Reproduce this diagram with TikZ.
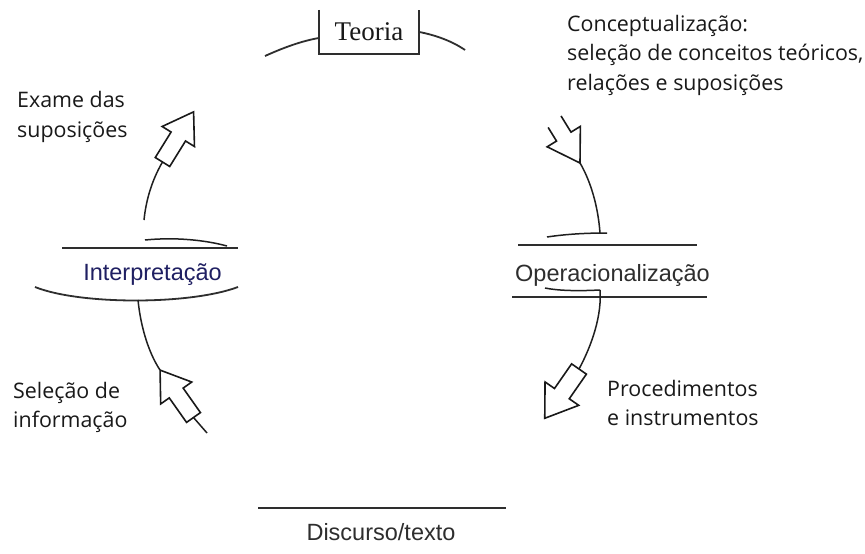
\documentclass[tikz,border=0pt]{standalone}
\usepackage{fontspec}
\setmainfont{Liberation Serif}
\newfontfamily\labsans{Open Sans}
\newfontfamily\arialf{Liberation Sans}
\begin{document}
\begin{tikzpicture}[x=1pt,y=-1pt,
  ln/.style={line width=1.8pt,draw=black!82},
  thin/.style={line width=1.5pt,draw=black!88},
  note/.style={font=\labsans\fontsize{21.4}{29.5}\selectfont,text=black!90,align=left,inner sep=0pt},
  stage/.style={font=\arialf\fontsize{23.5}{26}\selectfont,text=black!82,inner sep=0pt},
  blockarrow/.style={line width=1.6pt,draw=black!90,line join=miter}]
\useasboundingbox (0,0) rectangle (865,554);
\fill[white] (0,0) rectangle (865,554);

% Teoria box (open at top)
\node[font=\fontsize{27}{30}\selectfont,text=black!90,minimum width=100pt,minimum height=44pt,inner sep=0pt] (teoria) at (369,32) {Teoria};
\draw[ln] (teoria.north west) -- (teoria.south west) -- (teoria.south east) -- (teoria.north east);
\coordinate (tl) at (265,56);
\coordinate (tr) at (465,50);
\draw[ln] (tl) .. controls (285,47) and (302,41) .. (teoria.west |- 0,38);
\draw[ln] (teoria.east |- 0,32) .. controls (435,35) and (452,41) .. (tr);

% labels
\node[note,anchor=west] (exame) at (17,117) {Exame das\\suposições};
\node[note,anchor=west] (concept) at (567,55) {Conceptualização:\\seleção de conceitos teóricos,\\relações e suposições};
\node[note,anchor=west] (selecao) at (13,407.5) {Seleção de\\informação};
\node[note,anchor=west] (proced) at (607,403) {Procedimentos\\e instrumentos};

% stages
\node[stage,text=blue!30!black!88] (interp) at (152.5,275) {Interpretação};
\node[stage] (oper) at (612.5,275) {Operacionalização};
\node[stage] (disc) at (381,532) {Discurso/texto};

\draw[ln] (62,248) -- (238,248);
\draw[ln] (518,245) -- (697,245);
\draw[ln] (512,297) -- (707,297);
\draw[ln] (258,508) -- (506,508);
% arc under Interpretacao
\coordinate (ia) at (35,287);
\coordinate (ib) at (238,287);
\draw[ln] (ia) .. controls (80,305) and (190,305) .. (ib);

% ---- Exame arrow (up-right)
\coordinate (eA) at (144,220);
\coordinate (eB) at (162.5,162);
\draw[thin] (eA) .. controls (146,200) and (152,180) .. (eB);
\draw[thin] (145,240) .. controls (175,237) and (205,240) .. (227,246);
\begin{scope}[shift={(eB)},rotate=58.2]
\draw[blockarrow] (0,-8.5) -- (0,8.5) -- (30,8.5) -- (30,19) -- (59,0) -- (30,-19) -- (30,-8.5) -- cycle;
\end{scope}

% ---- Selecao arrow (up-left, tip on curve)
\coordinate (sA) at (138,300);
\coordinate (sB) at (160,370);
\coordinate (sBase) at (193.5,417.5);
\coordinate (sTail) at (207,433);
\draw[thin] (sA) .. controls (141,330) and (150,355) .. (sB);
\begin{scope}[shift={(sBase)},rotate=125.2]
\draw[blockarrow] (0,-8.5) -- (0,8.5) -- (30,8.5) -- (30,19) -- (58,0) -- (30,-19) -- (30,-8.5) -- cycle;
\end{scope}
\draw[thin] (sBase) -- (sTail);

% ---- Conceptualizacao arrow (down toward Operacionalizacao)
\coordinate (cTip) at (580,163);
\coordinate (cEnd) at (600,233);
\draw[thin] (547,237) .. controls (567,234) and (587,233) .. (607,233);
\draw[thin] (cEnd) .. controls (598,205) and (590,180) .. (cTip);
\begin{scope}[shift={(cTip)},rotate=-58.4]
\draw[blockarrow] (-50,-8.5) -- (-31,-8.5) -- (-31,-19.5) -- (0,0) -- (-31,19.5) -- (-31,8.5) -- (-47,8.5);
\end{scope}

% ---- Procedimentos arrow (down-left)
\coordinate (pA) at (600,290);
\coordinate (pBase) at (579,369);
\draw[thin] (545,288) .. controls (560,291) and (580,291) .. (pA);
\draw[thin] (pA) .. controls (602,315) and (592,345) .. (pBase);
\begin{scope}[shift={(pBase)},rotate=-124.8]
\draw[blockarrow] (0,-9) -- (0,9) -- (30,9) -- (30,20.5) -- (60,0) -- (30,-20.5) -- (30,-9) -- cycle;
\end{scope}
\end{tikzpicture}
\end{document}
